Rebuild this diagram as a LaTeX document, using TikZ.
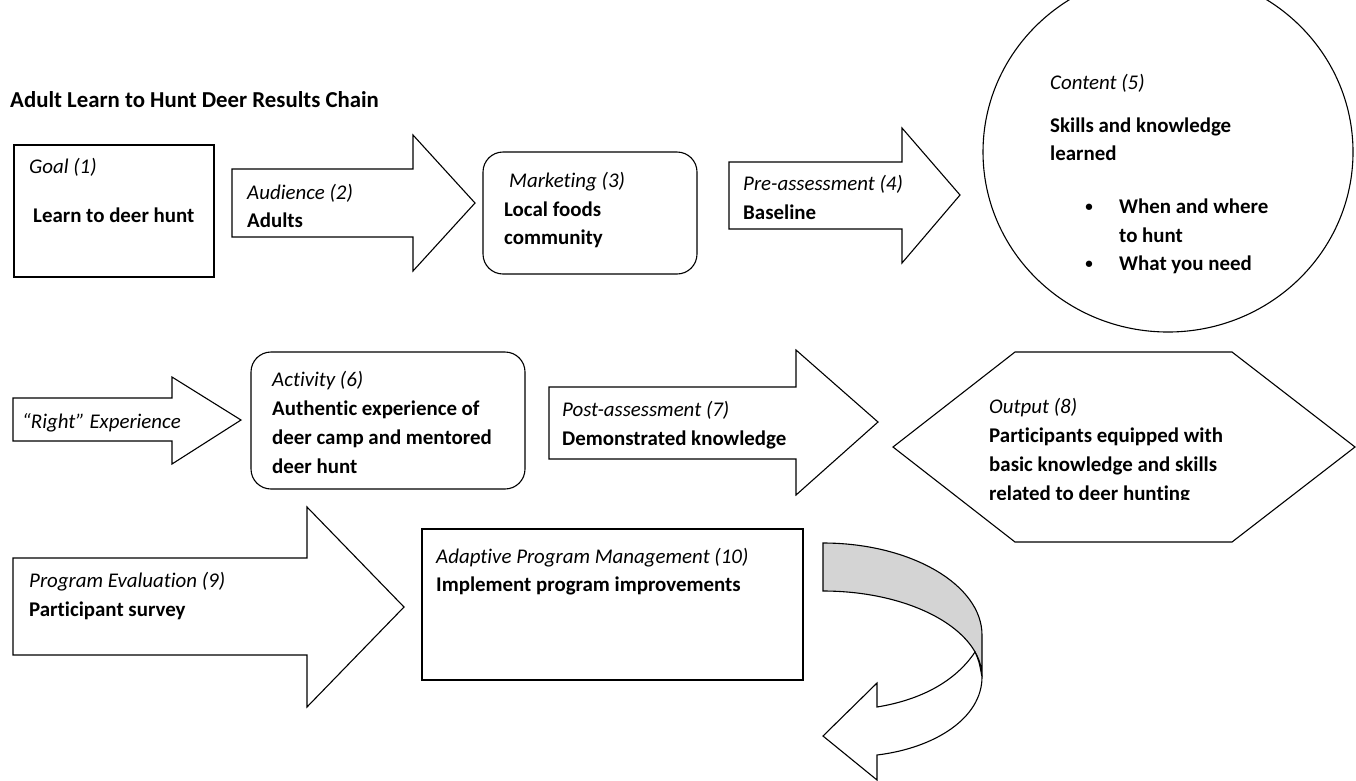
\documentclass[tikz,border=0pt]{standalone}
\usepackage{fontspec}
\setmainfont{Carlito}[Ligatures=NoCommon]
\begin{document}
\begin{tikzpicture}[x=1pt,y=-1pt,
  shp/.style={draw=black,line width=1.1pt,fill=white,line join=miter},
  capt/.style={anchor=base west,inner sep=0pt,font=\fontsize{20.9}{28}\selectfont\itshape},
  body/.style={anchor=base west,inner sep=0pt,font=\fontsize{20.9}{28}\selectfont\bfseries},
  bul/.style={anchor=base,inner sep=0pt,font=\fontsize{15}{28}\selectfont\bfseries},
  ttl/.style={anchor=base west,inner sep=0pt,font=\fontsize{22.8}{28}\selectfont\bfseries}]
\useasboundingbox (0,0) rectangle (1356,780);

% title
\node[ttl] (title) at (10,107) {Adult Learn to Hunt Deer Results Chain};

% (1) goal
\draw[shp] (14,145) rectangle (214,277);
\node[capt] (goalc) at (29,173) {Goal (1)};
\node[body] (goalt) at (33,222) {Learn to deer hunt};

% (2) audience arrow
\draw[shp] (232,169) -- (413,169) -- (413,135) -- (475,203) -- (413,271) -- (413,237) -- (232,237) -- cycle;
\node[capt] (audc) at (247,199) {Audience (2)};
\node[body] (audt) at (247,227) {Adults};

% (3) marketing
\draw[shp,rounded corners=20pt] (483,152) rectangle (697,274);
\node[capt] (mktc) at (509,187) {Marketing (3)};
\node[body] (mktt1) at (504,216) {Local foods};
\node[body] (mktt2) at (504,244) {community};

% (4) pre-assessment arrow
\draw[shp] (729,162) -- (902,162) -- (902,128) -- (960,195) -- (902,263) -- (902,229) -- (729,229) -- cycle;
\node[capt] (prec) at (743,190) {Pre-assessment (4)};
\node[body] (pret) at (743,219) {Baseline};

% (5) content
\draw[shp] (1168,152) ellipse [x radius=185, y radius=180];
\node[capt] (conc) at (1050,89) {Content (5)};
\node[body] (cont1) at (1050,132) {Skills and knowledge};
\node[body] (cont2) at (1050,160) {learned};
\node[bul] (bul1) at (1089,211) {\textbullet};
\node[body] (cont3) at (1119,213) {When and where};
\node[body] (cont4) at (1119,242) {to hunt};
\node[bul] (bul2) at (1089,268) {\textbullet};
\node[body] (cont5) at (1119,270) {What you need};

% "Right" experience arrow
\draw[shp] (13,398) -- (172,398) -- (172,377) -- (241,420) -- (172,464) -- (172,441) -- (13,441) -- cycle;
\node[capt] (rexp) at (22,428) {“Right” Experience};

% (6) activity
\draw[shp,rounded corners=20pt] (251,352) rectangle (525,489);
\node[capt] (actc) at (272,386) {Activity (6)};
\node[body] (actt1) at (272,415) {Authentic experience of};
\node[body] (actt2) at (272,444) {deer camp and mentored};
\node[body] (actt3) at (272,473) {deer hunt};

% (7) post-assessment arrow
\draw[shp] (549,387) -- (796,387) -- (796,350) -- (878,422) -- (796,495) -- (796,459) -- (549,459) -- cycle;
\node[capt] (postc) at (562,416) {Post-assessment (7)};
\node[body] (postt) at (562,445) {Demonstrated knowledge};

% (8) output hexagon
\draw[shp] (893,447) -- (1015,352) -- (1232,352) -- (1355,447) -- (1232,542) -- (1015,542) -- cycle;
\node[capt] (outc) at (989,413) {Output (8)};
\node[body] (outt1) at (989,442) {Participants equipped with};
\node[body] (outt2) at (989,471) {basic knowledge and skills};
\begin{scope}
  \clip (880,480) rectangle (1356,499);
  \node[body] (outt3) at (989,500) {related to deer hunting};
\end{scope}

% (9) program evaluation arrow
\draw[shp] (13,558) -- (307,558) -- (307,507) -- (404,607) -- (307,707) -- (307,655) -- (13,655) -- cycle;
\node[capt] (evalc) at (29,587) {Program Evaluation (9)};
\node[body] (evalt) at (29,616) {Participant survey};

% (10) adaptive management
\draw[shp] (422,529) rectangle (803,680);
\node[capt] (adac) at (436,563) {Adaptive Program Management (10)};
\node[body] (adat) at (436,591) {Implement program improvements};

% curved return arrow: shaded back band, then the front band with its head
\draw[shp,fill=black!17] (823,543) .. controls (911,543) and (982,585) .. (982,635)
  -- (982,677) .. controls (982,630) and (911,591) .. (823,591) -- cycle;
\draw[shp] (982,677) .. controls (982,718) and (935,748) .. (877,755)
  -- (877,780) -- (823,736) -- (877,683) -- (877,707)
  .. controls (920,700) and (955,682) .. (975,652)
  .. controls (979,661) .. (982,677) -- cycle;
\end{tikzpicture}
\end{document}
